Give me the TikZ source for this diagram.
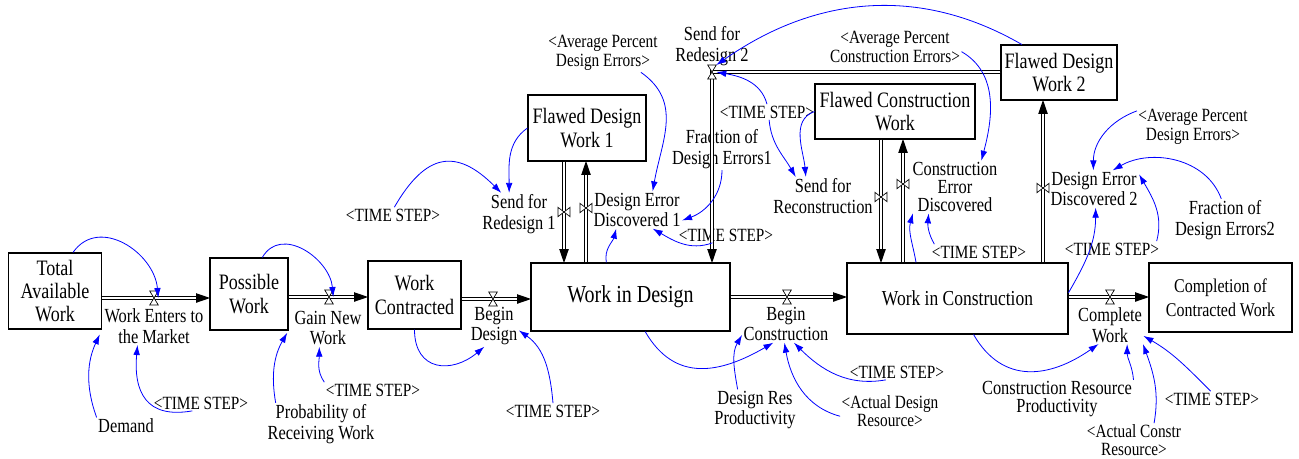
\documentclass[tikz,border=0pt]{standalone}
\usepackage{fontspec}
\setmainfont{Liberation Serif}[FakeStretch=0.82]
\usetikzlibrary{arrows.meta,decorations.markings}

\tikzset{
  stock/.style={draw, line width=0.8pt, align=center, inner sep=0pt, font=\fontsize{16.5}{17.5}\selectfont},
  aux/.style={align=center, inner sep=1pt, font=\fontsize{15}{15.5}\selectfont},
  shadow/.style={align=center, inner sep=1pt, font=\fontsize{14}{14.3}\selectfont},
  hvalve/.style={inner sep=0pt, minimum width=6pt, minimum height=10pt},
  vvalve/.style={inner sep=0pt, minimum width=8.5pt, minimum height=6.5pt},
  valveline/.style={draw, fill=white, line width=0.5pt},
  pipe/.style={double, double distance=2.2pt, line width=0.6pt, shorten >=9pt,
    postaction={decorate, decoration={markings, mark=at position 1 with
      {\fill (0.5pt,0pt) -- (-10pt,3.6pt) -- (-10pt,-3.6pt) -- cycle;}}}},
  link/.style={blue, line width=0.6pt, -{Latex[length=7.5pt,width=5pt]}}
}

\begin{document}
\begin{tikzpicture}[x=0.75pt, y=0.75pt]
  \useasboundingbox (0,0) rectangle (1299,-458);

  %Stocks
  \node[stock, minimum width=69.75pt, minimum height=57pt] (taw) at (55,-291) {Total\\Available\\Work};
  \node[stock, minimum width=58.5pt, minimum height=54pt] (pw) at (249,-294) {Possible\\Work};
  \node[stock, minimum width=69.75pt, minimum height=51pt] (wc) at (414.5,-295) {Work\\Contracted};
  \node[stock, minimum width=149.25pt, minimum height=51pt, font=\fontsize{18.3}{20}\selectfont] (wid) at (630.5,-297) {Work in Design};
  \node[stock, minimum width=88.5pt, minimum height=49.5pt] (fdwa) at (587,-128) {Flawed Design\\Work 1};
  \node[stock, minimum width=120pt, minimum height=41.25pt] (fcw) at (895,-111.5) {Flawed Construction\\Work};
  \node[stock, minimum width=87pt, minimum height=41.25pt] (fdwb) at (1059,-72.5) {Flawed Design\\Work 2};
  \node[stock, minimum width=165.75pt, minimum height=53.25pt, font=\fontsize{16}{18}\selectfont] (wic) at (957.5,-298.5) {Work in Construction};
  \node[stock, minimum width=107.25pt, minimum height=51.75pt, font=\fontsize{14.6}{18}\selectfont] (ccw) at (1220.5,-297.5) {Completion of\\Contracted Work};

  %Valves
  \node[hvalve] (wemv) at (154,-298) {};
  \node[hvalve] (gnwv) at (329,-297) {};
  \node[hvalve] (bdv) at (493,-299) {};
  \node[hvalve] (bcv) at (787,-297) {};
  \node[hvalve] (cwv) at (1110,-297) {};
  \node[hvalve] (sfrbv) at (712,-72) {};
  \node[vvalve] (sfrav) at (564,-212) {};
  \node[vvalve] (deav) at (586,-208) {};
  \node[vvalve] (sfrcv) at (881,-197) {};
  \node[vvalve] (cedv) at (903,-184) {};
  \node[vvalve] (debv) at (1043,-188) {};

  %Flow names
  \node[aux] (wem) at (154,-326) {Work Enters to\\the Market};
  \node[aux] (gnw) at (328,-328) {Gain New\\Work};
  \node[aux] (bd) at (494,-326) {Begin\\Design};
  \node[aux] (bc) at (786,-324) {Begin\\Construction};
  \node[aux] (cw) at (1110,-325) {Complete\\Work};
  \node[aux] (sfra) at (519,-214) {Send for\\Redesign 1};
  \node[aux] (dea) at (637,-210) {Design Error\\Discovered 1};
  \node[aux] (sfrb) at (712,-46) {Send for\\Redesign 2};
  \node[aux, font=\fontsize{15}{13.5}\selectfont] (ced) at (955,-187) {Construction\\Error\\Discovered};
  \node[aux] (sfrc) at (823,-196) {Send for\\Reconstruction};
  \node[aux] (deb) at (1094,-189) {Design Error\\Discovered 2};

  %Auxiliaries
  \node[aux] (dem) at (126,-426) {Demand};
  \node[aux] (prw) at (321,-424) {Probability of\\Receiving Work};
  \node[aux] (fdea) at (722,-149) {Fraction of\\Design Errors1};
  \node[aux] (fdeb) at (1225,-220) {Fraction of\\Design Errors2};
  \node[aux] (drp) at (755,-410) {Design Res\\Productivity};
  \node[aux, font=\fontsize{15}{14}\selectfont] (crp) at (1057,-399) {Construction Resource\\Productivity};
  \node[shadow] (tsa) at (201,-403) {<TIME STEP>};
  \node[shadow] (tsb) at (373,-390) {<TIME STEP>};
  \node[shadow] (tsc) at (553,-411) {<TIME STEP>};
  \node[shadow] (tsd) at (393,-215) {<TIME STEP>};
  \node[shadow] (tse) at (767,-112) {<TIME STEP>};
  \node[shadow] (tsf) at (726,-235) {<TIME STEP>};
  \node[shadow] (tsg) at (979,-252) {<TIME STEP>};
  \node[shadow] (tsh) at (1112,-249) {<TIME STEP>};
  \node[shadow] (tsi) at (897,-372) {<TIME STEP>};
  \node[shadow] (tsj) at (1212,-399) {<TIME STEP>};
  \node[shadow] (apda) at (603,-53) {<Average Percent\\Design Errors>};
  \node[shadow] (apce) at (895,-47) {<Average Percent\\Construction Errors>};
  \node[shadow] (apdb) at (1193,-127) {<Average Percent\\Design Errors>};
  \node[shadow, font=\fontsize{14}{13.5}\selectfont] (adr) at (890,-411) {<Actual Design\\Resource>};
  \node[shadow, font=\fontsize{14}{13}\selectfont] (acr) at (1134,-440) {<Actual Constr\\Resource>};

  %Pipes
  \draw[pipe] (taw.east |- wemv) -- (pw.west |- wemv);
  \draw[pipe] (pw.east |- gnwv) -- (wc.west |- gnwv);
  \draw[pipe] (wc.east |- bdv) -- (wid.west |- bdv);
  \draw[pipe] (wid.east |- bcv) -- (wic.west |- bcv);
  \draw[pipe] (wic.east |- cwv) -- (ccw.west |- cwv);
  \draw[pipe] (sfrav |- fdwa.south) -- (sfrav |- wid.north);
  \draw[pipe] (deav |- wid.north) -- (deav |- fdwa.south);
  \draw[pipe] (fdwb.west |- sfrbv) -- (sfrbv.center) -- (sfrbv |- wid.north);
  \draw[pipe] (sfrcv |- fcw.south) -- (sfrcv |- wic.north);
  \draw[pipe] (cedv |- wic.north) -- (cedv |- fcw.south);
  \draw[pipe] (debv |- wic.north) -- (debv |- fdwb.south);

  \foreach \v in {wemv,gnwv,bdv,bcv,cwv,sfrbv}
    \draw[valveline] (\v.north west) -- (\v.north east) -- (\v.south west) -- (\v.south east) -- cycle;
  \foreach \v in {sfrav,deav,sfrcv,cedv,debv}
    \draw[valveline] (\v.north west) -- (\v.south west) -- (\v.north east) -- (\v.south east) -- cycle;

  %Links
  \draw[link] (taw.65) to[out=55,in=95,looseness=1.2] (wemv.east);
  \draw[link, shorten >=4pt] (dem.north west) to[out=110,in=245] (taw.south east);
  \draw[link] (tsa.222) to[out=190,in=265,looseness=1.4] (wem.229);
  \draw[link] (pw.70) to[out=60,in=95,looseness=1.2] (gnwv.east);
  \draw[link, shorten >=2pt] (prw.155) to[out=100,in=240] (pw.south east);
  \draw[link] (tsb.north west) to[out=125,in=270] (gnw.245);
  \draw[link] (wc.south) to[out=270,in=220,looseness=1.5] (bd.245);
  \draw[link] (tsc.north) to[out=95,in=-35] (bd.-10);
  \draw[link] (tsd.80) to[out=60,in=135,looseness=1.5] (sfra.130);
  \draw[link] (fdwa.west) to[out=215,in=90] (sfra.115);
  \draw[link] (apda.-27) to[out=-35,in=80,looseness=1.1] (dea.50);
  \draw[link] (wid.125) to[out=100,in=255] (dea.222);
  \draw[link] (fdea.south) to[out=270,in=20] (dea.-13);
  \draw[link] (tsf.210) to[out=200,in=-30] (dea.-50);
  \draw[link] (fdwb.143) to[out=150,in=35] (sfrbv.north east);
  \draw[link] (tse.north) to[out=105,in=-10] (sfrbv.east);
  \draw[link] (tse.-75) to[out=-85,in=120] (sfrc.145);
  \draw[link] (fcw.west) to[out=200,in=95] (sfrc.132);
  \draw[link] (apce.-4) to[out=-30,in=75] (ced.45);
  \draw[link] (wic.139) to[out=100,in=255] (ced.212);
  \draw[link] (tsg.170) to[out=120,in=265] (ced.225);
  \draw[link] (apdb.164) to[out=200,in=90] (deb.92);
  \draw[link] (fdeb.100) to[out=110,in=30] (deb.45);
  \draw[link] (tsh.10) to[out=75,in=-60] (deb.18);
  \draw[link] (wic.3) to[out=60,in=270] (deb.-85);
  \draw[link] (wid.-67) to[out=-60,in=210,looseness=1.2] (bc.236);
  \draw[link] (drp.130) to[out=100,in=240] (bc.194);
  \draw[link] (adr.186) to[out=165,in=280] (bc.265);
  \draw[link] (tsi.215) to[out=190,in=-45] (bc.-67);
  \draw[link] (wic.-66) to[out=-60,in=215,looseness=1.2] (cw.239);
  \draw[link] (crp.14) to[out=95,in=270] (cw.-48);
  \draw[link] (acr.40) to[out=80,in=-70] (cw.-30);
  \draw[link] (tsj.100) to[out=135,in=-30] (cw.-18);
\end{tikzpicture}
\end{document}
